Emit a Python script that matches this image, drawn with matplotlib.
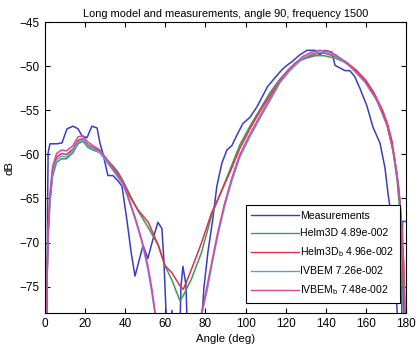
import matplotlib
matplotlib.use("Agg")
import matplotlib.pyplot as plt

plt.rcParams["font.family"] = ["Liberation Sans", "DejaVu Sans"]
plt.rcParams["mathtext.fontset"] = "custom"
plt.rcParams["mathtext.rm"] = "Liberation Sans"
plt.rcParams["mathtext.it"] = "Liberation Sans"

# measured response (deg, dB); -80 marks values below the axis floor
meas_deg = [1.0, 1.3, 1.6, 2.5, 4.0, 6.0, 8.5, 11.0, 14.0, 16.5, 18.5, 21.0, 23.4, 26.0,
            27.4, 28.9, 31.4, 33.9, 36.4, 38.4, 40.9, 42.9, 44.9, 46.4, 48.9, 51.3, 54.0,
            56.3, 58.3, 59.3, 60.3, 61.0, 62.8, 63.3, 63.8, 67.3, 67.8, 68.8, 70.3, 71.0,
            77.8, 79.3, 81.3, 83.7, 85.7, 88.2, 90.7, 93.2, 95.7, 98.7, 102.2, 105.7,
            108.7, 111.0, 114.7, 118.1, 120.6, 123.1, 127.1, 130.6, 134.6, 137.1, 139.6,
            143.1, 144.6, 147.1, 149.6, 152.0, 154.5, 157.0, 160.5, 163.5, 167.0, 169.5,
            171.0, 172.0, 173.0, 175.0, 176.0, 177.8, 178.3, 180.0]
meas_db = [-80.0, -66.0, -59.8, -58.8, -58.8, -58.8, -58.7, -57.1, -56.8, -57.1, -57.9,
           -58.1, -56.8, -57.0, -58.7, -59.9, -62.4, -62.4, -63.0, -63.6, -67.5, -71.0,
           -73.8, -72.5, -70.3, -71.8, -69.5, -67.7, -68.4, -72.0, -77.5, -80.0, -80.0,
           -77.7, -80.0, -80.0, -75.0, -72.7, -74.8, -80.0, -80.0, -75.0, -71.0, -67.3,
           -63.6, -61.0, -59.5, -59.0, -57.8, -56.5, -55.8, -54.6, -53.3, -52.3, -51.3,
           -50.4, -49.9, -49.5, -48.7, -48.2, -48.2, -48.7, -48.2, -48.4, -49.9, -50.2,
           -50.5, -50.5, -51.2, -52.5, -54.5, -56.9, -58.7, -61.5, -64.4, -66.0, -67.5,
           -75.0, -80.0, -80.0, -67.6, -67.6]

helm_deg = [0.8, 1.15, 1.65, 2.5, 3.8, 5.8, 8.3, 10.8, 14.0, 16.5, 18.9, 21.4, 23.9, 27.4,
            30.9, 33.9, 36.4, 38.9, 42.4, 46.4, 51.5, 56.5, 59.8, 63.2, 67.3, 69.0, 73.1,
            78.1, 83.1, 87.2, 93.2, 97.2, 102.2, 107.2, 112.2, 117.0, 121.0, 125.0, 130.0,
            135.0, 139.0, 145.0, 150.0, 155.0, 160.0, 164.0, 168.5, 171.0, 173.0, 175.5,
            177.0, 178.0, 178.6, 179.0]
helm_db = [-80.0, -73.6, -69.2, -65.5, -62.5, -60.9, -60.5, -60.5, -59.8, -58.8, -58.5,
           -59.2, -59.5, -59.8, -60.6, -61.3, -62.0, -63.0, -64.6, -66.4, -68.3, -70.3,
           -72.6, -74.2, -76.6, -76.0, -74.1, -71.1, -66.9, -64.6, -61.2, -58.9, -56.8,
           -54.9, -53.0, -51.5, -50.5, -49.6, -49.1, -48.8, -48.8, -49.1, -49.6, -50.6,
           -51.8, -53.2, -55.4, -57.0, -58.9, -62.8, -66.6, -70.3, -75.8, -80.0]

helm_b_deg = [0.8, 1.15, 1.65, 2.5, 3.8, 5.8, 8.3, 10.8, 14.0, 16.5, 18.9, 21.4, 23.9, 27.4,
              30.9, 33.9, 36.4, 38.9, 42.4, 46.4, 51.5, 56.5, 59.8, 63.2, 67.3, 69.0, 73.1,
              78.1, 83.1, 87.2, 93.2, 97.2, 102.2, 107.2, 112.2, 117.0, 121.0, 125.0, 130.0,
              135.0, 139.0, 145.0, 150.0, 155.0, 160.0, 164.0, 168.5, 171.0, 173.0, 175.5,
              177.0, 178.0, 178.8, 179.3]
helm_b_db = [-80.0, -73.2, -68.6, -64.9, -61.8, -60.3, -59.9, -60.0, -59.4, -58.4, -58.2,
             -58.9, -59.2, -59.6, -60.6, -61.5, -62.2, -63.1, -64.8, -66.3, -67.7, -70.3,
             -72.6, -73.4, -74.9, -75.3, -73.0, -70.0, -66.6, -64.6, -61.5, -59.3, -57.1,
             -55.1, -53.3, -51.7, -50.5, -49.6, -49.0, -48.6, -48.5, -48.9, -49.5, -50.4,
             -51.6, -53.0, -55.1, -56.7, -58.5, -62.2, -65.6, -69.3, -75.0, -80.0]

ivbem_deg = [0.8, 1.15, 1.65, 2.5, 3.8, 5.8, 8.3, 10.8, 14.0, 16.5, 18.9, 21.4, 23.9, 27.4,
             30.9, 33.9, 36.4, 38.9, 40.9, 44.9, 48.4, 51.3, 53.3, 54.8, 55.5, 77.8, 78.3,
             80.8, 83.7, 86.2, 89.7, 93.2, 97.2, 102.2, 107.2, 112.2, 117.1, 122.1, 128.6,
             133.0, 137.1, 141.0, 144.6, 152.0, 159.5, 165.5, 170.5, 174.0, 176.5, 178.0,
             179.0, 179.5, 179.7]
ivbem_db = [-80.0, -73.4, -68.9, -65.2, -62.1, -60.6, -60.2, -60.3, -59.6, -58.6, -58.3,
            -59.0, -59.3, -59.8, -60.9, -61.8, -62.6, -63.4, -64.6, -67.3, -70.0, -73.0,
            -75.7, -78.0, -80.0, -80.0, -78.0, -75.5, -72.0, -69.2, -65.8, -63.0, -60.3,
            -58.0, -55.9, -53.9, -51.9, -50.5, -49.1, -48.6, -48.4, -48.5, -48.8, -50.0,
            -51.8, -53.9, -56.7, -60.1, -64.1, -68.6, -73.2, -78.0, -80.0]

ivbem_b_deg = [0.8, 1.15, 1.65, 2.5, 3.8, 5.8, 8.3, 10.8, 14.0, 16.5, 18.9, 21.4, 23.9, 27.4,
               30.9, 33.9, 36.4, 38.9, 40.9, 44.9, 48.4, 51.3, 53.3, 55.0, 55.8, 77.5, 78.0,
               80.5, 83.5, 86.0, 89.5, 93.0, 97.0, 102.0, 107.0, 112.0, 117.0, 122.0, 128.5,
               133.0, 137.0, 141.0, 145.0, 152.0, 159.5, 165.5, 170.5, 174.0, 176.5, 178.0,
               179.0, 179.5, 179.8]
ivbem_b_db = [-80.0, -72.8, -68.2, -64.5, -61.4, -59.9, -59.5, -59.6, -59.0, -58.0, -57.9,
              -58.6, -59.0, -59.5, -60.6, -61.6, -62.4, -63.2, -64.4, -67.1, -69.8, -72.6,
              -75.2, -78.0, -80.0, -80.0, -78.0, -75.3, -71.8, -69.0, -65.6, -62.8, -60.1,
              -57.8, -55.7, -53.7, -51.7, -50.3, -48.9, -48.4, -48.2, -48.3, -48.7, -49.9,
              -51.7, -53.8, -56.6, -60.0, -64.0, -68.5, -73.0, -78.0, -80.0]

labels = ["Measurements", "Helm3D 4.89e-002", "Helm3D$_\\mathregular{b}$ 4.96e-002",
          "IVBEM 7.26e-002", "IVBEM$_\\mathregular{b}$ 7.48e-002"]
colors = ["#3a3cc4", "#3f9a58", "#e2304c", "#5b9ee0", "#d6479e"]

x_ticks = list(range(0, 181, 20))
y_ticks = [-75, -70, -65, -60, -55, -50, -45]

fig = plt.figure(figsize=(4.16, 3.57), dpi=100)
ax = fig.add_axes([0.108, 0.123, 0.868, 0.815])

series = [(meas_deg, meas_db), (helm_deg, helm_db), (helm_b_deg, helm_b_db),
          (ivbem_deg, ivbem_db), (ivbem_b_deg, ivbem_b_db)]
for (xs, ys), lab, col in zip(series, labels, colors):
    ax.plot(xs, ys, color=col, lw=1.1, label=lab)

ax.set_xlim(0, 180)
ax.set_ylim(-78, -45)
ax.set_xticks(x_ticks)
ax.set_yticks(y_ticks)
ax.tick_params(direction="in", length=3.5, width=0.8, top=True, right=True,
               labelsize=8.5, pad=3.5)
for sp in ax.spines.values():
    sp.set_linewidth(0.8)

ax.set_title("Long model and measurements, angle 90, frequency 1500", fontsize=7.9, pad=4)
ax.set_xlabel("Angle (deg)", fontsize=8.2, labelpad=3)
ax.set_ylabel("dB", fontsize=8.2, labelpad=4)

leg = ax.legend(loc="lower right", bbox_to_anchor=(0.983, 0.034), fontsize=7.6,
                frameon=True, fancybox=False, edgecolor="black", framealpha=1,
                handlelength=4.5, handletextpad=0.1, labelspacing=0.68,
                borderpad=0.55, borderaxespad=0)
leg.get_frame().set_linewidth(0.8)
for line in leg.get_lines():
    line.set_linewidth(1.0)

fig.savefig("out.png", dpi=100)
